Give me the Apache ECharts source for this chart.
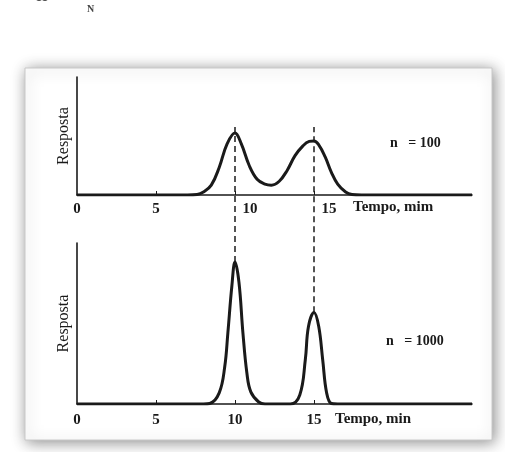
<!DOCTYPE html>
<html>
<head>
<meta charset="utf-8">
<script src="https://cdn.jsdelivr.net/npm/echarts@6/dist/echarts.min.js"></script>
<style>
  html, body { margin: 0; padding: 0; background: #fff; }
  #chart { width: 505px; height: 452px; }
</style>
</head>
<body>
<div id="chart"></div>
<script>
// n = 100 : broad, overlapping peaks (time in min, response)
const lowN = [
  [0, 0], [7, 0], [7.6, 0.5], [8, 3], [8.5, 10], [9, 28], [9.5, 52], [10, 63],
  [10.4, 52], [10.9, 30], [11.4, 16], [11.9, 11], [12.3, 10], [12.8, 14], [13.3, 25],
  [13.8, 40], [14.3, 50], [14.7, 54.5], [15, 55], [15.3, 51], [15.7, 39], [16.1, 23],
  [16.5, 11], [17, 3], [17.4, 0.5], [18, 0], [25, 0]
]
// n = 1000 : narrow, resolved peaks
const highN = [
  [0, 0], [8, 0], [8.4, 0.5], [9, 11], [9.35, 37], [9.55, 71], [9.8, 117], [10, 141],
  [10.25, 121], [10.5, 71], [10.75, 31], [11, 12], [11.5, 2], [11.9, 0],
  [13.5, 0], [14.1, 9], [14.45, 44], [14.65, 77], [15, 91], [15.3, 77], [15.55, 44],
  [15.8, 11], [16.1, 0.5], [16.5, 0], [25, 0]
]
const peakTimes = [10, 15]
const peakHeights = [141, 91]
const xTicks = [0, 5, 10, 15]
const tickMarks = [5, 10, 15]
const nLabels = ['n   = 100', 'n   = 1000']
const xNames = ['Tempo, mim', 'Tempo, min']
const yName = 'Resposta'

const serif = '"Liberation Serif", "DejaVu Serif", serif'
const black = '#1a1a1a'

const labelFont = { fontFamily: serif, fontSize: 15, fontWeight: 'bold', color: black }

const xAxisBase = (gridIndex, labelMargin, shifted) => ({
  type: 'value',
  gridIndex,
  min: 0,
  max: 25,
  interval: 5,
  splitLine: { show: false },
  axisLine: { lineStyle: { color: black, width: 1.6 } },
  axisTick: { show: true, inside: true, length: 4, customValues: tickMarks, lineStyle: { color: black } },
  axisLabel: {
    ...labelFont,
    margin: labelMargin,
    customValues: xTicks,
    formatter: (v) => (shifted && v >= 10 ? '{s|' + v + '}' : String(v)),
    rich: { s: { ...labelFont, padding: [0, 0, 0, 30] } }
  }
})

const yAxisBase = (gridIndex, max) => ({
  type: 'value',
  gridIndex,
  min: 0,
  max,
  splitLine: { show: false },
  axisTick: { show: false },
  axisLabel: { show: false },
  axisLine: { show: true, onZero: false, lineStyle: { color: black, width: 1.6 } },
  name: yName,
  nameLocation: 'middle',
  nameGap: 5,
  nameTextStyle: { fontFamily: serif, fontSize: 16, color: black }
})

const peakLine = (i) => ({
  type: 'line',
  xAxisIndex: 2,
  yAxisIndex: 2,
  data: [[peakTimes[i], peakHeights[i]], [peakTimes[i], 275]],
  symbol: 'none',
  silent: true,
  lineStyle: { color: black, width: 1.5, type: [6, 4] },
  z: 1
})

const chart = echarts.init(document.getElementById('chart'), null, { renderer: 'canvas' })

chart.setOption({
  animation: false,
  backgroundColor: '#fff',
  grid: [
    { left: 77, top: 77, width: 395, height: 118 },
    { left: 77, top: 243, width: 395, height: 161 },
    { left: 77, top: 125, width: 395, height: 279 }
  ],
  xAxis: [
    xAxisBase(0, 7, true),
    xAxisBase(1, 9, false),
    { type: 'value', gridIndex: 2, min: 0, max: 25, show: false }
  ],
  yAxis: [
    yAxisBase(0, 120),
    yAxisBase(1, 160),
    { type: 'value', gridIndex: 2, min: 0, max: 277, show: false }
  ],
  graphic: [
    {
      type: 'rect', z: -10, silent: true,
      shape: { x: 25, y: 68, width: 467, height: 372 },
      style: { fill: '#fff', stroke: '#c8c8c8', lineWidth: 1, shadowBlur: 14, shadowOffsetX: 2, shadowOffsetY: 2, shadowColor: 'rgba(0,0,0,0.45)' }
    },
    { type: 'text', left: 10, top: -10, style: { text: '< >  H  =', fontFamily: serif, fontSize: 14, fontWeight: 'bold', fill: '#555' } },
    { type: 'text', left: 87, top: 4, style: { text: 'N', fontFamily: serif, fontSize: 10, fontWeight: 'bold', fill: '#444' } },
    { type: 'text', left: 353, top: 200, style: { text: xNames[0], ...labelFont, fill: black } },
    { type: 'text', left: 335, top: 412, style: { text: xNames[1], ...labelFont, fill: black } },
    { type: 'text', left: 390, top: 136, style: { text: nLabels[0], ...labelFont, fontSize: 14, fill: black } },
    { type: 'text', left: 386, top: 334, style: { text: nLabels[1], ...labelFont, fontSize: 14, fill: black } }
  ],
  series: [
    {
      type: 'line', xAxisIndex: 0, yAxisIndex: 0, data: lowN,
      smooth: 0.4, symbol: 'none', lineStyle: { color: black, width: 3 }
    },
    {
      type: 'line', xAxisIndex: 1, yAxisIndex: 1, data: highN,
      smooth: 0.4, symbol: 'none', lineStyle: { color: black, width: 3 }
    },
    peakLine(0),
    peakLine(1)
  ]
})
</script>
</body>
</html>
